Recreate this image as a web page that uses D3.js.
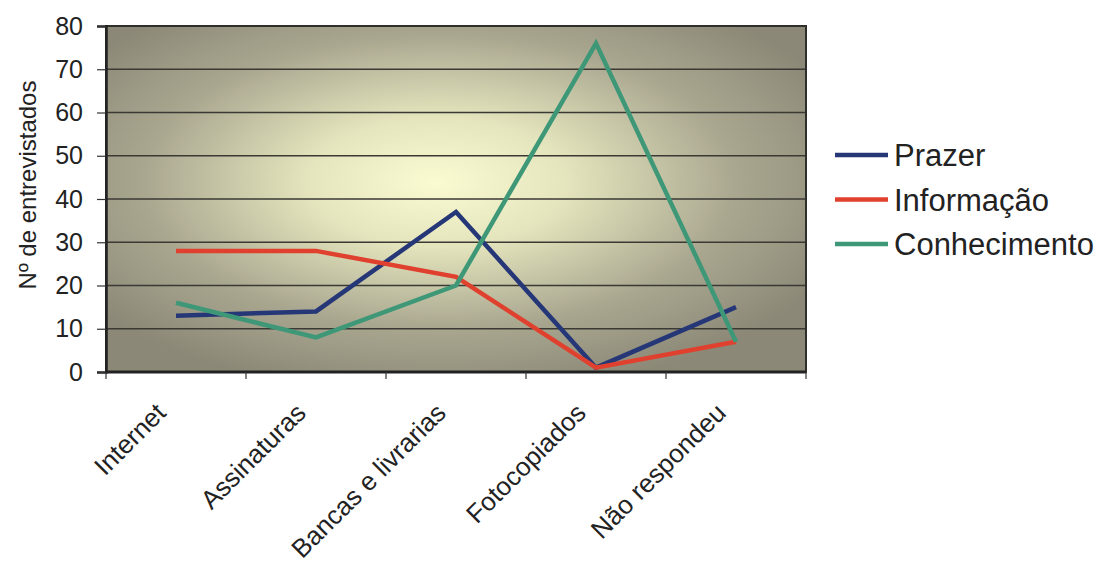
<!DOCTYPE html>
<html>
<head>
<meta charset="utf-8">
<script src="https://cdn.jsdelivr.net/npm/d3@7"></script>
<style>
  html, body { margin: 0; padding: 0; background: #fff; }
  svg { display: block; font-family: "Liberation Sans", Arial, sans-serif; }
</style>
</head>
<body>
<svg id="chart" width="1105" height="569"></svg>
<script>
// Fontes de acesso à leitura, por motivação
const categories = ["Internet", "Assinaturas", "Bancas e livrarias", "Fotocopiados", "Não respondeu"];
const prazer = [13, 14, 37, 1, 15];
const informacao = [28, 28, 22, 1, 7];
const conhecimento = [16, 8, 20, 76, 7];
const seriesNames = ["Prazer", "Informação", "Conhecimento"];
const yTicks = [0, 10, 20, 30, 40, 50, 60, 70, 80];

const series = [
  { name: seriesNames[0], values: prazer, color: "#263777" },
  { name: seriesNames[1], values: informacao, color: "#e0402e" },
  { name: seriesNames[2], values: conhecimento, color: "#3e9878" }
];

const FONT = "Liberation Sans, Arial, sans-serif";
const svg = d3.select("#chart");
const plot = { left: 106, top: 26, right: 806, bottom: 372 };

const x = d3.scaleBand().domain(categories).range([plot.left, plot.right]);
const y = d3.scaleLinear().domain([0, 80]).range([plot.bottom, plot.top]);

// Background gradient of the plot area
const defs = svg.append("defs");
const grad = defs.append("radialGradient")
  .attr("id", "plotBg")
  .attr("cx", 0.48).attr("cy", 0.45).attr("r", 0.62)
  .attr("fx", 0.47).attr("fy", 0.45);
grad.append("stop").attr("offset", "0%").attr("stop-color", "#fbfbd2");
grad.append("stop").attr("offset", "30%").attr("stop-color", "#e4e5bd");
grad.append("stop").attr("offset", "68%").attr("stop-color", "#aaa790");
grad.append("stop").attr("offset", "100%").attr("stop-color", "#8b8877");

svg.append("rect")
  .attr("x", plot.left).attr("y", plot.top)
  .attr("width", plot.right - plot.left).attr("height", plot.bottom - plot.top)
  .attr("fill", "url(#plotBg)");

// Horizontal gridlines
svg.append("g")
  .selectAll("line")
  .data(yTicks.filter(d => d > 0 && d < 80))
  .join("line")
  .attr("x1", plot.left).attr("x2", plot.right)
  .attr("y1", d => y(d)).attr("y2", d => y(d))
  .attr("stroke", "#3a3934").attr("stroke-width", 1.6);

// Plot border
svg.append("rect")
  .attr("x", plot.left).attr("y", plot.top)
  .attr("width", plot.right - plot.left).attr("height", plot.bottom - plot.top)
  .attr("fill", "none").attr("stroke", "#2e2e2a").attr("stroke-width", 2);

// Y axis
const yAxis = svg.append("g")
  .attr("transform", `translate(${plot.left},0)`)
  .call(d3.axisLeft(y).tickValues(yTicks).tickSize(9).tickPadding(14));
yAxis.select(".domain").attr("stroke", "#222").attr("stroke-width", 2.5);
yAxis.selectAll(".tick line").attr("stroke", "#333").attr("stroke-width", 1.2);
yAxis.selectAll(".tick text").attr("font-size", 25).attr("fill", "#222")
  .attr("font-family", FONT);

// X axis: ticks at category boundaries
const xAxisG = svg.append("g").attr("transform", `translate(0,${plot.bottom})`);
xAxisG.append("line")
  .attr("x1", plot.left).attr("x2", plot.right)
  .attr("stroke", "#222").attr("stroke-width", 3);
const boundaries = categories.map(c => x(c)).concat([plot.right]);
xAxisG.selectAll("line.tk")
  .data(boundaries)
  .join("line")
  .attr("class", "tk")
  .attr("x1", d => d).attr("x2", d => d)
  .attr("y1", 0).attr("y2", 7)
  .attr("stroke", "#333").attr("stroke-width", 1.2);

// Rotated category labels
xAxisG.selectAll("text.cat")
  .data(categories)
  .join("text")
  .attr("class", "cat")
  .attr("transform", d => `translate(${x(d) + x.bandwidth() / 2 - 15},${36}) rotate(-45)`)
  .attr("text-anchor", "end")
  .attr("dy", "0.35em")
  .attr("font-size", 26)
  .attr("font-family", FONT)
  .attr("fill", "#222")
  .text(d => d);

// Y axis title
svg.append("text")
  .attr("transform", `translate(28,185) rotate(-90)`)
  .attr("text-anchor", "middle")
  .attr("dy", "0.35em")
  .attr("font-size", 24)
  .attr("font-family", FONT)
  .attr("fill", "#222")
  .text("Nº de entrevistados");

// Series lines
const line = d3.line()
  .x((d, i) => x(categories[i]) + x.bandwidth() / 2)
  .y(d => y(d));

svg.append("g")
  .selectAll("path")
  .data(series)
  .join("path")
  .attr("d", s => line(s.values))
  .attr("fill", "none")
  .attr("stroke", s => s.color)
  .attr("stroke-width", 4.5)
  .attr("stroke-linejoin", "miter");

// Legend
const legend = svg.append("g").attr("transform", "translate(835,155)");
const item = legend.selectAll("g")
  .data(series)
  .join("g")
  .attr("transform", (d, i) => `translate(0,${i * 44.5})`);
item.append("line")
  .attr("x1", 0).attr("x2", 53)
  .attr("stroke", d => d.color).attr("stroke-width", 4.5);
item.append("text")
  .attr("x", 59).attr("dy", "0.36em")
  .attr("font-size", 31)
  .attr("font-family", FONT)
  .attr("fill", "#222")
  .text(d => d.name);
</script>
</body>
</html>
